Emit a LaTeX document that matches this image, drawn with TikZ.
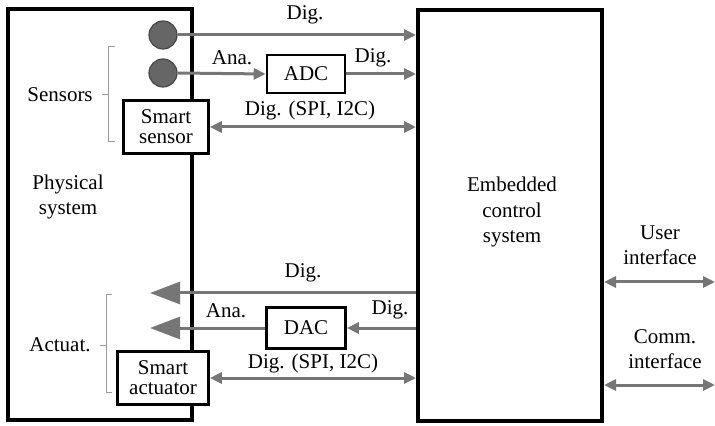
\documentclass[tikz,border=0pt]{standalone}
\usepackage{fontspec}
\setmainfont{Liberation Serif}
\usetikzlibrary{arrows.meta}
\definecolor{arr}{HTML}{767676}
\definecolor{dot}{HTML}{666666}
\definecolor{brk}{HTML}{9A9A9A}
\begin{document}
\begin{tikzpicture}[x=0.5pt,y=-0.5pt,
  font=\fontsize{10.5}{12.75}\selectfont,
  bigbox/.style={draw=black,line width=2pt,minimum width=92pt,minimum height=205.5pt,inner sep=0pt},
  smallbox/.style={draw=black,fill=white,line width=1.3pt,inner sep=0pt,align=center,font=\fontsize{10.5}{10}\selectfont},
  dotnode/.style={circle,fill=dot,draw=dot!70!black,line width=0.6pt,minimum size=14pt,inner sep=0pt},
  lbl/.style={inner sep=0pt,align=center},
  sig/.style={draw=arr,line width=1.5pt,-{Triangle[length=6pt,width=5.5pt]}},
  bisig/.style={draw=arr,line width=1.5pt,{Triangle[length=6pt,width=5.5pt]}-{Triangle[length=6pt,width=5.5pt]}},
  bigsig/.style={draw=arr,line width=1.5pt,-{Triangle[length=15pt,width=11pt]}},
  brace/.style={draw=brk,line width=0.5pt}]
\useasboundingbox (0,0) rectangle (715,426);
% main boxes
\node[bigbox] (phys) at (99.5,214.5) {};
\node[bigbox] (ecs) at (510,215.5) {};
\node[lbl] (physlbl) at (68,197) {Physical\\system};
\node[lbl] (ecslbl) at (512,212) {Embedded\\control\\system};
% sensors
\node[dotnode] (c1) at (163,35) {};
\node[dotnode] (c2) at (163,73) {};
\node[smallbox,minimum width=42.5pt,minimum height=26.5pt] (ss) at (166,127) {Smart\\sensor};
\node[smallbox,minimum width=39pt,minimum height=19pt] (adc) at (306,74) {ADC};
% actuators
\node[smallbox,minimum width=39.5pt,minimum height=20.5pt] (dac) at (306,328) {DAC};
\node[smallbox,minimum width=45.5pt,minimum height=26.5pt] (sa) at (163,378) {Smart\\actuator};
\coordinate (a1) at (150,293);
\coordinate (a2) at (150,328);
\coordinate (ui) at (715,282);
\coordinate (ci) at (715,385);
% labels
\node[lbl] (l1) at (305,15) {Dig.};
\node[lbl] (l2) at (232,58) {Ana.};
\node[lbl] (l3) at (373,58) {Dig.};
\node[lbl] (l4) at (310,110) {Dig. (SPI, I2C)};
\node[lbl] (l5) at (303,273) {Dig.};
\node[lbl] (l6) at (226,311) {Ana.};
\node[lbl] (l7) at (390,310) {Dig.};
\node[lbl] (l8) at (313,363) {Dig. (SPI, I2C)};
\node[lbl] (sens) at (60,95) {Sensors};
\node[lbl] (act) at (60,345) {Actuat.};
\node[lbl] (uil) at (660,245) {User\\interface};
\node[lbl] (cil) at (665,349) {Comm.\\interface};
% brackets
\draw[brace] (115,47) -- (108,47) -- (108,142) -- (115,142);
\draw[brace] (102,95) -- (108,95);
\draw[brace] (112,295) -- (106,295) -- (106,392) -- (112,392);
\draw[brace] (100,345) -- (106,345);
% connectors
\draw[sig] (c1.east) -- (ecs.west |- c1);
\draw[sig] (c2.east) -- (adc.west);
\draw[sig] (adc.east) -- (ecs.west |- adc);
\draw[bisig] (ss.east) -- (ecs.west |- ss);
\draw[bigsig] (ecs.west |- a1) -- (a1);
\draw[sig] (ecs.west |- dac) -- (dac.east);
\draw[bigsig] (dac.west) -- (a2);
\draw[bisig] (sa.east) -- (ecs.west |- sa);
\draw[bisig] (ecs.east |- ui) -- (ui);
\draw[bisig] (ecs.east |- ci) -- (ci);
\end{tikzpicture}
\end{document}
